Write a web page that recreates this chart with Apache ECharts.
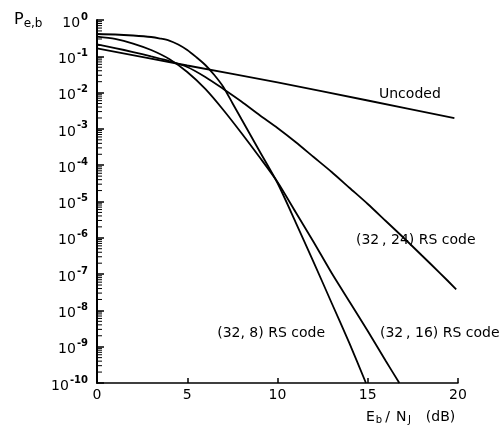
<!DOCTYPE html>
<html>
<head>
<meta charset="utf-8">
<script src="https://cdn.jsdelivr.net/npm/echarts@6/dist/echarts.min.js"></script>
<style>html,body{margin:0;padding:0;background:#fff}#c{width:501px;height:425px}</style>
</head>
<body>
<div id="c"></div>
<script>
// Eb/NJ (dB) and bit error probability
const uncodedX = [0, 5, 10, 15, 19.8];
const uncodedY = [0.166, 0.0558, 0.019, 0.00606, 0.00198];

const rs24X = [0, 1, 2, 3, 4, 5, 6, 7, 8, 9, 10, 11, 12, 13, 14, 15, 16, 17, 18, 19, 19.9];
const rs24Y = [0.214, 0.169, 0.131, 0.0988, 0.0742, 0.0507, 0.0269, 0.0126, 0.00569, 0.00241,
  1.06e-3, 4.36e-4, 1.68e-4, 6.5e-5, 2.35e-5, 8.53e-6, 2.9e-6, 9.87e-7, 3.25e-7, 1.07e-7, 3.81e-8];

const rs16X = [0, 1, 2, 3, 4, 5, 6, 7, 8, 9, 10, 11, 12, 13, 14, 15, 16, 16.75];
const rs16Y = [0.347, 0.30, 0.225, 0.149, 0.0842, 0.0369, 0.0126, 3.32e-3, 7.71e-4, 1.68e-4,
  3.45e-5, 5.14e-6, 7.66e-7, 1.07e-7, 1.70e-8, 2.71e-9, 4.04e-10, 1e-10];

const rs8X = [0, 1, 2, 3, 3.5, 4, 4.5, 5, 5.5, 6, 6.5, 7, 7.5, 8, 8.5, 9, 10, 11, 12, 13, 14, 14.9];
const rs8Y = [0.411, 0.399, 0.374, 0.340, 0.309, 0.272, 0.211, 0.149, 0.0946, 0.0576, 0.0305, 0.0143,
  5.17e-3, 1.87e-3, 6.79e-4, 2.46e-4, 3.23e-5, 2.72e-6, 2.15e-7, 1.6e-8, 1.19e-9, 1e-10];

const xTickLabels = ['0', '5', '10', '15', '20'];
const minorMantissas = [2, 3, 4, 5, 6, 7, 8, 9];
const decadeExponents = [-10, -9, -8, -7, -6, -5, -4, -3, -2, -1];

const pairs = (xs, ys) => xs.map((x, i) => [x, ys[i]]);
const minorTicks = [];
decadeExponents.forEach(e => minorMantissas.forEach(m => minorTicks.push([0, m * Math.pow(10, e)])));

const lineStyle = { color: '#000', width: 1.8 };
const mkLine = (name, data) => ({
  name, type: 'line', data, showSymbol: false, symbol: 'none', smooth: 0.25,
  lineStyle, silent: true, clip: true
});

const chart = echarts.init(document.getElementById('c'), null, { renderer: 'canvas' });
const font = 'DejaVu Sans';
chart.setOption({
  backgroundColor: '#fff',
  animation: false,
  grid: { left: 97, right: 43, top: 20, bottom: 42, containLabel: false },
  xAxis: {
    type: 'value', min: 0, max: 20, interval: 5,
    axisLine: { lineStyle: { color: '#000', width: 1.5 } },
    axisTick: { inside: true, length: 5, lineStyle: { color: '#000', width: 1.5 } },
    axisLabel: {
      color: '#000', fontFamily: font, fontSize: 14, margin: 5,
      formatter: v => xTickLabels[Math.round(v / 5)]
    },
    splitLine: { show: false }
  },
  yAxis: {
    type: 'log', logBase: 10, min: 1e-10, max: 1, splitNumber: 10, interval: 1,
    axisLine: { lineStyle: { color: '#000', width: 2 } },
    axisTick: { inside: true, length: 7, lineStyle: { color: '#000', width: 1.5 } },
    axisLabel: {
      margin: 9,
      formatter: v => '{b|10}{s|' + Math.round(Math.log10(v)) + '}',
      rich: {
        b: { fontFamily: font, fontSize: 14, color: '#000', padding: [6, 0, 0, 0] },
        s: { fontFamily: font, fontSize: 10, fontWeight: 'bold', color: '#000', padding: [0, 0, 6, 1] }
      }
    },
    splitLine: { show: false }
  },
  series: [
    mkLine('Uncoded', pairs(uncodedX, uncodedY)),
    mkLine('(32,24) RS code', pairs(rs24X, rs24Y)),
    mkLine('(32,16) RS code', pairs(rs16X, rs16Y)),
    mkLine('(32,8) RS code', pairs(rs8X, rs8Y)),
    {
      type: 'custom', silent: true, clip: false, z: 5,
      data: minorTicks,
      renderItem: (params, api) => {
        const p = api.coord([api.value(0), api.value(1)]);
        return { type: 'line', shape: { x1: p[0], y1: p[1], x2: p[0] + 5, y2: p[1] },
          style: { stroke: '#000', lineWidth: 1 } };
      }
    }
  ],
  graphic: [
    { type: 'text', left: 14, top: 12, style: {
      text: '{m|P}{s|e,b}', rich: {
        m: { fontFamily: font, fontSize: 16, fill: '#000' },
        s: { fontFamily: font, fontSize: 12, fill: '#000', padding: [8, 0, 0, 0] }
      } } },
    { type: 'text', left: 379, top: 87, style: { text: 'Uncoded', fontFamily: font, fontSize: 14, fill: '#000' } },
    { type: 'text', left: 356, top: 233, style: { text: '(32\u2009, 24) RS code', fontFamily: font, fontSize: 14, fill: '#000' } },
    { type: 'text', left: 380, top: 326, style: { text: '(32\u2009, 16) RS code', fontFamily: font, fontSize: 14, fill: '#000' } },
    { type: 'text', right: 176, top: 326, style: { text: '(32, 8) RS code', fontFamily: font, fontSize: 14, fill: '#000' } },
    { type: 'text', left: 366, top: 410, style: {
      text: '{m|E}{s|b}{sl|/}{m|N}{j|J}{m|(dB)}', rich: {
        m: { fontFamily: font, fontSize: 14, fill: '#000' },
        sl: { fontFamily: font, fontSize: 14, fill: '#000', padding: [0, 6, 0, 3] },
        s: { fontFamily: font, fontSize: 10, fill: '#000', padding: [7, 0, 0, 1] },
        j: { fontFamily: font, fontSize: 10, fill: '#000', padding: [7, 15, 0, 1.5] }
      } } }
  ]
});
</script>
</body>
</html>
